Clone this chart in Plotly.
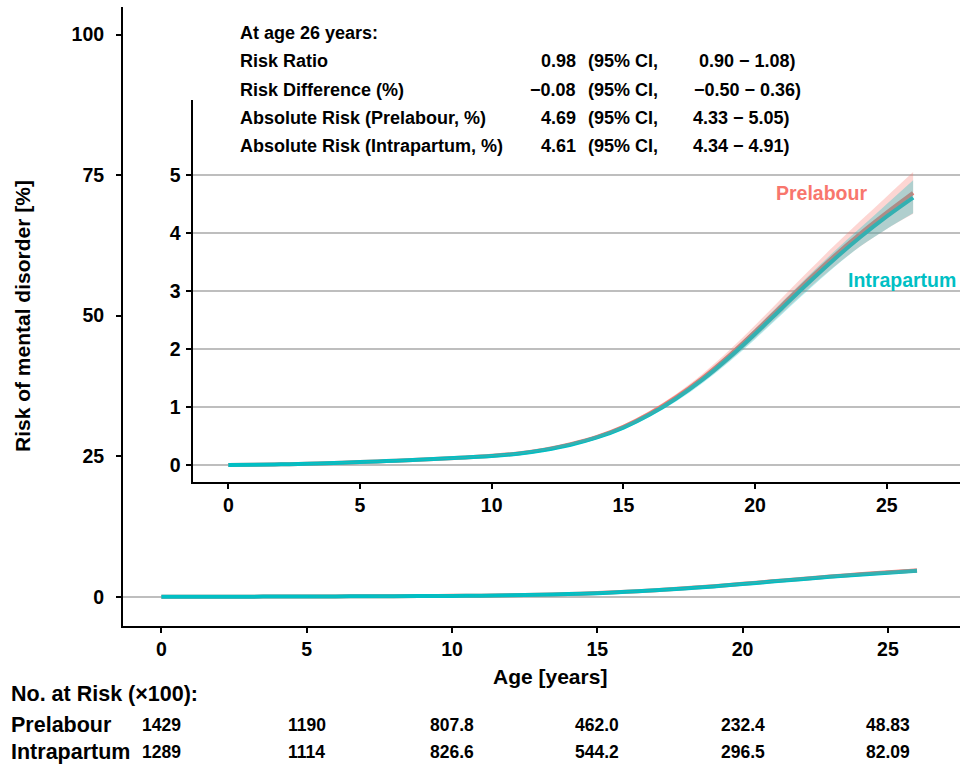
import plotly.graph_objects as go

# ---------------- data ----------------
ages = [0, 1, 2, 3, 4, 5, 6, 7, 8, 9, 10, 11, 12, 13, 14, 15, 16, 17, 18, 19, 20, 21, 22, 23, 24, 25, 26]
prelabour = [0.0, 0.005, 0.012, 0.02, 0.035, 0.05, 0.068, 0.086, 0.106, 0.13, 0.16, 0.20, 0.265, 0.36, 0.485,
             0.66, 0.89, 1.17, 1.50, 1.88, 2.30, 2.74, 3.18, 3.60, 3.99, 4.35, 4.69]
prelabour_lo = [0.0, 0.004, 0.011, 0.018, 0.032, 0.046, 0.063, 0.08, 0.098, 0.121, 0.149, 0.187, 0.248, 0.338,
                0.457, 0.625, 0.845, 1.115, 1.43, 1.79, 2.19, 2.61, 3.03, 3.42, 3.77, 4.07, 4.33]
prelabour_hi = [0.0, 0.006, 0.013, 0.022, 0.038, 0.054, 0.073, 0.092, 0.114, 0.139, 0.171, 0.213, 0.282, 0.382,
                0.513, 0.695, 0.935, 1.225, 1.57, 1.97, 2.41, 2.87, 3.33, 3.78, 4.21, 4.63, 5.05]
intrapartum = [0.0, 0.005, 0.012, 0.02, 0.035, 0.05, 0.068, 0.086, 0.106, 0.13, 0.155, 0.195, 0.26, 0.35, 0.475,
               0.645, 0.87, 1.145, 1.47, 1.845, 2.26, 2.695, 3.13, 3.545, 3.93, 4.285, 4.61]
intrapartum_lo = [0.0, 0.004, 0.011, 0.018, 0.032, 0.046, 0.063, 0.081, 0.099, 0.122, 0.146, 0.184, 0.245, 0.33,
                  0.45, 0.612, 0.83, 1.095, 1.41, 1.77, 2.17, 2.59, 3.01, 3.41, 3.77, 4.07, 4.34]
intrapartum_hi = [0.0, 0.006, 0.013, 0.022, 0.038, 0.054, 0.073, 0.091, 0.113, 0.138, 0.164, 0.206, 0.275, 0.37,
                  0.50, 0.678, 0.91, 1.195, 1.53, 1.92, 2.35, 2.80, 3.25, 3.68, 4.09, 4.50, 4.91]

main_yticks = [0, 25, 50, 75, 100]
inset_yticks = [0, 1, 2, 3, 4, 5]
xticks = [0, 5, 10, 15, 20, 25]

risk_times = [0, 5, 10, 15, 20, 25]
risk_prelabour = ["1429", "1190", "807.8", "462.0", "232.4", "48.83"]
risk_intrapartum = ["1289", "1114", "826.6", "544.2", "296.5", "82.09"]

stat_labels = ["Risk Ratio", "Risk Difference (%)", "Absolute Risk (Prelabour, %)",
               "Absolute Risk (Intrapartum, %)"]
stat_values = ["0.98", "\u22120.08", "4.69", "4.61"]
stat_ci = ["0.90 \u2212 1.08)", "\u22120.50 \u2212 0.36)", "4.33 \u2212 5.05)", "4.34 \u2212 4.91)"]

RED = "#F8766D"
CYAN = "#00BFC4"
FONT = "Liberation Sans, Arial, sans-serif"

W, H = 960, 766
L, R, T, B = 123, 0, 7, 140
PW, PH = W - L - R, H - T - B


def px(xp):
    return (xp - L) / PW


def py(yp):
    return (H - B - yp) / PH


fig = go.Figure()


def add_group(xa, ya):
    for y, col in [(prelabour, RED), (intrapartum, CYAN)]:
        fig.add_trace(go.Scatter(x=ages, y=y, mode="lines", line=dict(color=col, width=4, shape="spline"),
                                 xaxis=xa, yaxis=ya, showlegend=False, hoverinfo="skip"))
    for lo, hi, col in [(prelabour_lo, prelabour_hi, "rgba(248,118,109,0.30)"),
                        (intrapartum_lo, intrapartum_hi, "rgba(0,191,196,0.30)")]:
        fig.add_trace(go.Scatter(x=ages, y=lo, mode="lines", line=dict(width=0, shape="spline"),
                                 xaxis=xa, yaxis=ya, showlegend=False, hoverinfo="skip"))
        fig.add_trace(go.Scatter(x=ages, y=hi, mode="lines", fill="tonexty", fillcolor=col,
                                 line=dict(width=0, shape="spline"), xaxis=xa, yaxis=ya,
                                 showlegend=False, hoverinfo="skip"))


add_group("x", "y")
add_group("x2", "y2")

axis_common = dict(showline=True, linecolor="black", linewidth=2, ticks="outside", ticklen=5,
                   tickwidth=1.5, tickcolor="black", tickfont=dict(family=FONT, size=19.5, color="black",
                                                                    weight="bold"))

fig.update_layout(
    width=W, height=H, margin=dict(l=L, r=R, t=T, b=B),
    paper_bgcolor="white", plot_bgcolor="white",
    xaxis=dict(domain=[0, 1], range=[-1.32, 27.48], tickvals=xticks, showgrid=False, zeroline=False,
               anchor="y", **axis_common),
    yaxis=dict(domain=[0, 1], range=[-5.2, 104.9], tickvals=main_yticks, showgrid=False,
               zeroline=True, zerolinecolor="#bebebe", zerolinewidth=2, anchor="x",
               ticklabelstandoff=8, **axis_common),
    xaxis2=dict(domain=[px(192.5), 1], range=[-1.36, 27.78], tickvals=xticks, showgrid=False,
                zeroline=False, anchor="y2", **axis_common),
    yaxis2=dict(domain=[py(482), py(100)], range=[-0.293, 6.293], tickvals=inset_yticks, showgrid=True,
                gridcolor="#bebebe", gridwidth=2, zeroline=False, anchor="x2", ticklabelstandoff=1,
                **axis_common),
)

ann = []


def txt(x, y, s, size=18, xanchor="left", color="black", xref="paper", **kw):
    ann.append(dict(x=x, y=y, xref=xref, yref="paper", text=s, showarrow=False, xanchor=xanchor,
                    yanchor="middle", font=dict(family=FONT, size=size, color=color, weight="bold"), **kw))


# axis titles
txt(px(22), py(316), "Risk of mental disorder [%]", size=21, xanchor="center", textangle=-90)
txt(px(550), py(676), "Age [years]", size=21, xanchor="center")

# stats block
txt(px(238), py(33), "At age 26 years:", size=18)
rows_y = [61, 90, 118, 146]
ci_right = [798, 803, 792, 792]
for i, yv in enumerate(rows_y):
    txt(px(238), py(yv), stat_labels[i], size=18)
    txt(px(578), py(yv), stat_values[i], size=18, xanchor="right")
    txt(px(586), py(yv), "(95% CI,", size=18)
    txt(px(ci_right[i]), py(yv), stat_ci[i], size=18, xanchor="right")

# curve labels
txt(px(821), py(193), "Prelabour", size=19.5, xanchor="center", color=RED)
txt(px(902), py(280), "Intrapartum", size=19.5, xanchor="center", color=CYAN)

# number at risk
txt(px(9), py(694), "No. at Risk (\u00d7100):", size=21.5)
txt(px(9), py(725), "Prelabour", size=21.5)
txt(px(9), py(752), "Intrapartum", size=21.5)
for t, a, b in zip(risk_times, risk_prelabour, risk_intrapartum):
    txt(t, py(725), a, size=17.5, xanchor="center", xref="x")
    txt(t, py(752), b, size=17.5, xanchor="center", xref="x")

fig.update_layout(annotations=ann)

fig.write_html("out.html", config={"displayModeBar": False},
               post_script="document.body.style.margin='0';document.body.style.overflow='hidden';")
